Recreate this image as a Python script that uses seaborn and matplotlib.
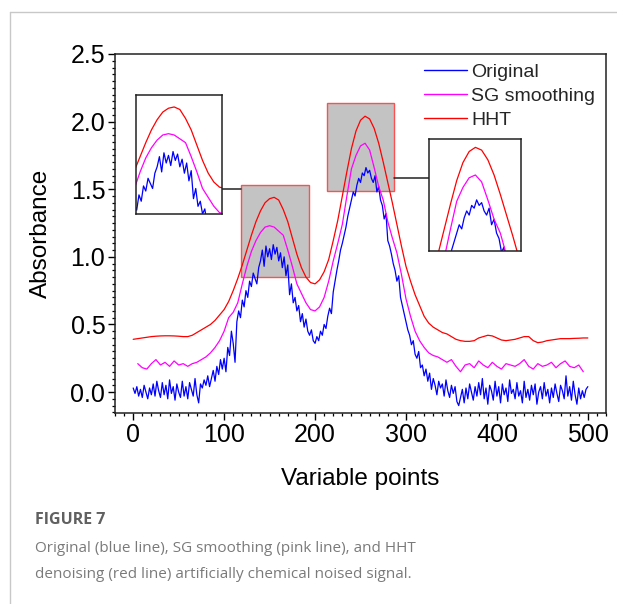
import numpy as np
import pandas as pd
import matplotlib
matplotlib.use("Agg")
import matplotlib.pyplot as plt
from matplotlib.patches import Rectangle
from matplotlib.ticker import MultipleLocator
import seaborn as sns

# ---------------- data ----------------
x_original = list(range(0, 501, 2))
y_original = [
    0.03, -0.01, 0.04, -0.03, 0.02, -0.04, 0.05, 0.00, -0.05, 0.03,
    -0.02, 0.06, -0.03, 0.08, 0.01, -0.04, 0.07, -0.02, 0.05, -0.05,
    0.09, -0.01, 0.04, -0.06, 0.06, 0.00, -0.04, 0.08, -0.03, 0.04,
    -0.05, 0.07, 0.02, -0.03, 0.10, -0.02, -0.08, 0.06, 0.03, 0.09,
    0.05, 0.12, 0.04, 0.10, 0.16, 0.08, 0.19, 0.13, 0.24, 0.17,
    0.25, 0.15, 0.33, 0.27, 0.45, 0.36, 0.22, 0.52, 0.60, 0.55,
    0.68, 0.63, 0.75, 0.70, 0.82, 0.78, 0.88, 0.84, 0.80, 0.92,
    0.97, 1.05, 0.93, 1.08, 1.00, 1.06, 0.98, 1.09, 1.02, 1.07,
    0.97, 1.03, 0.92, 1.00, 0.86, 0.94, 0.72, 0.80, 0.66, 0.70,
    0.60, 0.64, 0.52, 0.58, 0.48, 0.54, 0.45, 0.42, 0.46, 0.38,
    0.36, 0.41, 0.38, 0.45, 0.42, 0.50, 0.47, 0.56, 0.62, 0.58,
    0.74, 0.82, 0.90, 0.97, 1.05, 1.10, 1.16, 1.22, 1.30, 1.36,
    1.42, 1.48, 1.45, 1.53, 1.58, 1.55, 1.62, 1.60, 1.66, 1.62,
    1.64, 1.58, 1.55, 1.60, 1.48, 1.52, 1.42, 1.38, 1.28, 1.32,
    1.12, 1.08, 1.02, 0.95, 0.90, 0.82, 0.86, 0.70, 0.64, 0.58,
    0.52, 0.46, 0.42, 0.35, 0.38, 0.28, 0.25, 0.30, 0.18, 0.20,
    0.12, 0.17, 0.08, 0.14, 0.02, 0.10, 0.05, -0.02, 0.08, 0.03,
    0.06, -0.03, 0.09, 0.01, -0.04, 0.05, -0.01, 0.04, -0.07, -0.10,
    -0.04, 0.02, -0.08, 0.03, -0.05, 0.06, 0.00, -0.06, 0.04, -0.03,
    0.07, -0.02, 0.10, -0.05, 0.03, -0.09, 0.05, 0.01, -0.06, 0.08,
    -0.03, 0.04, -0.08, 0.06, -0.02, 0.03, -0.07, 0.09, -0.01, 0.02,
    -0.05, 0.07, -0.03, 0.01, -0.08, 0.08, -0.04, 0.02, -0.06, 0.05,
    -0.02, 0.06, -0.09, 0.00, 0.04, -0.05, 0.07, -0.03, 0.02, -0.08,
    0.03, -0.04, 0.06, -0.01, -0.07, 0.05, 0.01, -0.05, 0.12, -0.03,
    0.04, -0.06, 0.08, -0.02, -0.09, 0.03, -0.05, 0.01, -0.04, 0.02,
    0.04,
]

x_sg = list(range(5, 496, 5))
y_sg = [
    0.21, 0.18, 0.17, 0.21, 0.24, 0.20, 0.22, 0.19, 0.23, 0.20,
    0.21, 0.19, 0.21, 0.22, 0.24, 0.26, 0.29, 0.33, 0.38, 0.45,
    0.55, 0.59, 0.66, 0.80, 0.93, 1.04, 1.12, 1.18, 1.22, 1.23,
    1.22, 1.19, 1.16, 1.05, 0.93, 0.80, 0.73, 0.66, 0.61, 0.60,
    0.63, 0.70, 0.82, 0.97, 1.10, 1.24, 1.45, 1.65, 1.75, 1.82,
    1.84, 1.79, 1.66, 1.52, 1.42, 1.26, 1.14, 1.03, 0.87, 0.69,
    0.56, 0.45, 0.38, 0.33, 0.29, 0.27, 0.26, 0.24, 0.22, 0.24,
    0.19, 0.15, 0.20, 0.21, 0.18, 0.23, 0.20, 0.18, 0.22, 0.19,
    0.17, 0.21, 0.20, 0.19, 0.21, 0.24, 0.19, 0.17, 0.21, 0.19,
    0.20, 0.22, 0.18, 0.21, 0.23, 0.19, 0.18, 0.20, 0.15,
]

x_hht = list(range(0, 501, 5))
y_hht = [
    0.39, 0.395, 0.40, 0.405, 0.41, 0.413, 0.415, 0.416, 0.416, 0.415,
    0.413, 0.41, 0.41, 0.42, 0.44, 0.46, 0.48, 0.50, 0.53, 0.57,
    0.61, 0.67, 0.75, 0.84, 0.94, 1.05, 1.16, 1.26, 1.34, 1.40,
    1.43, 1.44, 1.42, 1.35, 1.26, 1.14, 1.02, 0.92, 0.85, 0.81,
    0.80, 0.83, 0.89, 0.98, 1.12, 1.27, 1.45, 1.63, 1.80, 1.93,
    2.01, 2.04, 2.02, 1.95, 1.84, 1.70, 1.55, 1.40, 1.24, 1.08,
    0.93, 0.82, 0.72, 0.64, 0.56, 0.51, 0.48, 0.46, 0.44, 0.43,
    0.41, 0.39, 0.38, 0.375, 0.375, 0.38, 0.40, 0.41, 0.42, 0.415,
    0.40, 0.385, 0.38, 0.385, 0.39, 0.40, 0.41, 0.41, 0.38, 0.365,
    0.37, 0.38, 0.385, 0.39, 0.395, 0.395, 0.395, 0.397, 0.398, 0.40,
    0.40,
]

series_names = ["Original", "SG smoothing", "HHT"]
series_colors = ["#0000ff", "#ff00ff", "#ff0000"]

x_ticks = [0, 100, 200, 300, 400, 500]
y_ticks = [0.0, 0.5, 1.0, 1.5, 2.0, 2.5]

# ---------------- layout ----------------
sns.set_theme(style="ticks")
plt.rcParams["font.family"] = ["Liberation Sans", "DejaVu Sans"]
plt.rcParams["axes.linewidth"] = 1.1

fig = plt.figure(figsize=(6.17, 6.04), dpi=100)
ax = fig.add_axes([0.1864, 0.3162, 0.7958, 0.5944])

frames = [
    pd.DataFrame({"x": x_original, "y": y_original}),
    pd.DataFrame({"x": x_sg, "y": y_sg}),
    pd.DataFrame({"x": x_hht, "y": y_hht}),
]

for df, name, col in zip(frames, series_names, series_colors):
    sns.lineplot(data=df, x="x", y="y", ax=ax, color=col, lw=0.9,
                 label=name, zorder=3)

ax.set_xlim(-20, 520)
ax.set_ylim(-0.155, 2.5)
ax.set_xticks(x_ticks)
ax.set_yticks(y_ticks)
ax.set_yticklabels([f"{v:.1f}" for v in y_ticks])
ax.xaxis.set_minor_locator(MultipleLocator(10))
ax.yaxis.set_minor_locator(MultipleLocator(0.05))
ax.tick_params(axis="both", which="major", direction="out", length=5,
               width=1.0, labelsize=18, color="black", labelcolor="black",
               pad=2)
ax.tick_params(axis="both", which="minor", direction="out", length=2.5,
               width=0.9, color="black")
for s in ax.spines.values():
    s.set_visible(True)
    s.set_color("#222222")
ax.set_xlabel("Variable points", fontsize=17.5, labelpad=15, color="black")
ax.set_ylabel("Absorbance", fontsize=17.5, labelpad=13, color="black")

leg = ax.legend(loc="upper left", bbox_to_anchor=(0.629, 0.975),
                frameon=False, fontsize=14, handlelength=2.2,
                handletextpad=0.25, labelspacing=0.33, borderpad=0,
                borderaxespad=0)
for line in leg.get_lines():
    line.set_linewidth(1.0)

# zoom regions: (x0, x1, y0, y1) of shaded rectangle, inset box, inset view
rects = [(119, 193, 0.85, 1.53), (213, 287, 1.49, 2.14)]
inset_boxes = [(2.6, 97.5, 1.317, 2.197), (325.7, 427.0, 1.043, 1.871)]
inset_views = [(121, 197, 0.60, 1.534), (218, 292, 1.29, 2.10)]
connector_y = [1.50, 1.583]

for (rx0, rx1, ry0, ry1) in rects:
    ax.add_patch(Rectangle((rx0, ry0), rx1 - rx0, ry1 - ry0,
                           facecolor="#c3c3c3", edgecolor="#ff5050",
                           lw=1.0, zorder=1))

for i, ((bx0, bx1, by0, by1), (vx0, vx1, vy0, vy1)) in enumerate(
        zip(inset_boxes, inset_views)):
    iax = ax.inset_axes([bx0, by0, bx1 - bx0, by1 - by0],
                        transform=ax.transData, zorder=5)
    for df, col in zip(frames, series_colors):
        sns.lineplot(data=df, x="x", y="y", ax=iax, color=col, lw=0.9)
    iax.set_xlim(vx0, vx1)
    iax.set_ylim(vy0, vy1)
    iax.set_xticks([])
    iax.set_yticks([])
    iax.set_xlabel("")
    iax.set_ylabel("")
    iax.set_facecolor("white")
    for s in iax.spines.values():
        s.set_visible(True)
        s.set_color("#222222")
        s.set_linewidth(1.1)

# connector lines
ax.plot([inset_boxes[0][1], rects[0][0]], [connector_y[0]] * 2,
        color="#222222", lw=1.1, zorder=4)
ax.plot([rects[1][1], inset_boxes[1][0]], [connector_y[1]] * 2,
        color="#222222", lw=1.1, zorder=4)

# card frame
fig.add_artist(plt.Line2D([10 / 617, 1.0], [1 - 12 / 604] * 2,
                          color="#c8c8c8", lw=1.0))
fig.add_artist(plt.Line2D([10 / 617] * 2, [0, 1 - 12 / 604],
                          color="#c8c8c8", lw=1.0))

# caption
cap_font = ["Open Sans", "DejaVu Sans"]
fig.text(35 / 617, 1 - 520 / 604, "FIGURE 7", fontsize=11.5,
         fontweight="bold", color="#606060", family=cap_font,
         va="center", ha="left")
fig.text(35 / 617, 1 - 549 / 604,
         "Original (blue line), SG smoothing (pink line), and HHT",
         fontsize=11.0, color="#7a7a7a", family=cap_font,
         va="center", ha="left")
fig.text(35 / 617, 1 - 574 / 604,
         "denoising (red line) artificially chemical noised signal.",
         fontsize=11.0, color="#7a7a7a", family=cap_font,
         va="center", ha="left")

fig.savefig("out.png", dpi=100)
